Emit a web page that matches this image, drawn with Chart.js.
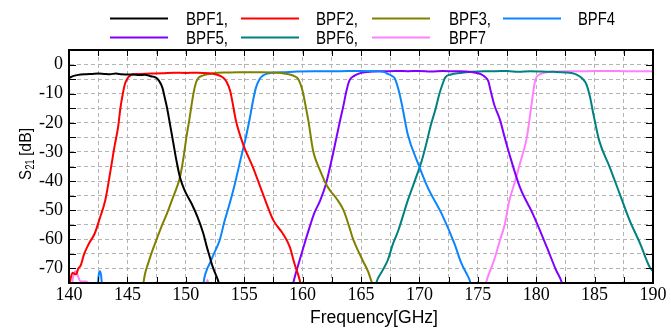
<!DOCTYPE html>
<html>
<head>
<meta charset="utf-8">
<script src="https://cdn.jsdelivr.net/npm/chart.js"></script>
<style>body{margin:0;background:#fff}</style>
</head>
<body>
<canvas id="myChart" width="671" height="332"></canvas>
<script>
var bpf1F = [140, 140.4, 141, 141.5, 142, 142.5, 143, 143.5, 144, 144.5, 145, 145.5, 146, 146.5, 147, 147.4, 147.7, 148.0, 148.2, 148.4, 148.6, 148.9, 149.2, 149.5, 149.9, 150.5, 151.0, 151.5, 151.8, 152.05, 152.3, 152.75, 153];
var bpf1S = [-4.6, -3.9, -3.4, -3.3, -3.2, -3.1, -3.2, -3.3, -3.1, -3.3, -3.4, -3.4, -3.6, -3.5, -4.0, -4.4, -5.5, -8, -11.4, -15, -19.4, -26.2, -33, -38.7, -43.2, -47.8, -52.3, -58, -62.6, -66, -69.4, -74, -77];

var bpf2F = [140.05, 140.3, 140.6, 140.8, 141.0, 141.3, 141.7, 142.2, 142.7, 143.1, 143.6, 143.9, 144.2, 144.4, 144.6, 144.8, 145.05, 145.3, 145.6, 146, 147, 148, 149, 150, 151, 152, 152.6, 153.0, 153.2, 153.5, 153.8, 154.0, 154.3, 154.9, 155.75, 156.6, 157.5, 158.3, 158.9, 159.3, 159.75, 159.9];
var bpf2S = [-75, -71.5, -72, -70, -69, -65, -61.5, -58, -52, -46.7, -35.3, -28, -21.6, -15, -10.2, -6.5, -4.5, -3.6, -3.3, -3.2, -3.1, -3.0, -2.8, -2.9, -2.8, -3.0, -3.4, -4.0, -4.5, -6, -9.1, -13, -19.4, -27.3, -35.3, -44.4, -53.5, -58, -62.6, -68.3, -74, -77];

var bpf3F = [146.3, 146.5, 146.8, 147.05, 147.5, 147.9, 148.4, 148.8, 149.2, 149.5, 149.8, 150.05, 150.3, 150.5, 150.7, 150.85, 151.1, 151.5, 151.9, 152.5, 153.5, 154.5, 155.5, 156.5, 157.5, 158.3, 158.9, 159.3, 159.6, 159.8, 160.0, 160.2, 160.5, 160.9, 161.2, 161.5, 162.0, 162.4, 162.9, 163.5, 164.0, 164.3, 164.6, 165.2, 165.6, 165.9, 166.1];
var bpf3S = [-77, -72, -68, -64.9, -60, -55.8, -51, -46.7, -42.5, -38.7, -32, -25, -19, -13.7, -9, -6.5, -4.5, -3.7, -3.3, -2.9, -2.7, -2.6, -2.6, -2.6, -2.7, -3.0, -3.4, -4.0, -4.8, -6.5, -9.1, -13, -19.4, -29.6, -33.5, -36.4, -41, -43.5, -46, -50, -55.8, -59.7, -62.6, -67.7, -71, -74.5, -77];

var bpf4F = [142.45, 142.55, 142.65, 142.75, 142.85, 143, 151.45, 151.6, 151.9, 152.05, 152.4, 152.9, 153.3, 153.75, 154.2, 154.6, 154.9, 155.2, 155.5, 155.75, 156.0, 156.3, 156.6, 156.9, 157.5, 158.5, 159.5, 161, 163, 165, 166.5, 167, 167.3, 167.6, 167.9, 168.2, 168.5, 169.0, 169.9, 170.7, 171.9, 173.0, 173.6, 174.0, 174.3, 174.5];
var bpf4S = [-77, -72, -71, -72.5, -77, null, -77, -73, -69.5, -68.3, -65, -60.3, -54, -47.8, -41, -34.1, -29, -23.9, -18, -12.5, -8, -5.1, -3.8, -3.2, -2.8, -2.6, -2.4, -2.3, -2.3, -2.2, -2.3, -2.6, -3.2, -3.8, -4.8, -8.5, -13.7, -23.9, -34.1, -42.1, -51.2, -61.5, -68.3, -71.5, -74, -77];

var bpf5F = [159.1, 159.2, 159.75, 160.2, 160.6, 161.0, 161.5, 162.0, 162.3, 162.6, 162.9, 163.2, 163.5, 163.75, 164.0, 164.45, 165.0, 166, 167, 168, 169, 170, 171, 172, 173, 174, 174.8, 175.3, 175.6, 175.9, 176.1, 176.4, 176.9, 177.3, 177.7, 178.6, 179.7, 180.9, 181.7, 182.2, 182.3];
var bpf5S = [-77, -75, -67.1, -61, -55.8, -51, -46.7, -41, -36, -30.7, -25, -19.4, -14, -9.1, -5.5, -3.8, -2.85, -2.4, -2.3, -2.2, -2.3, -2.2, -2.4, -2.2, -2.3, -2.4, -2.8, -3.4, -4.2, -5.7, -9, -13.7, -19, -25, -30.7, -42.1, -51.2, -62.6, -70.6, -75, -77];

var bpf6F = [166.2, 166.3, 166.8, 167.3, 167.7, 168.2, 169.0, 169.6, 170.2, 170.6, 171.0, 171.4, 171.7, 172.0, 172.2, 172.7, 173.5, 174.5, 175.5, 176.5, 177.5, 178.5, 179.5, 180.5, 181.5, 182.5, 183.3, 183.7, 184.0, 184.3, 184.6, 184.9, 185.4, 186.3, 187.15, 188.0, 188.9, 189.7, 190];
var bpf6S = [-77, -75, -71, -67.1, -62, -56.9, -46.7, -40, -33, -27, -20.5, -15, -10.2, -6.5, -4.5, -3.4, -2.9, -2.5, -2.3, -2.3, -2.2, -2.5, -2.3, -2.4, -2.5, -2.7, -3.2, -4, -5, -6.8, -11, -17.1, -26.2, -35.3, -44.4, -53.5, -61.5, -69.4, -71];

var bpf7F = [140.2, 140.4, 140.6, 140.8, 141.0, 141.5, 141.8, 142, 151.7, 151.85, 152.0, 152.1, 175.6, 175.7, 176.4, 176.9, 177.3, 177.7, 178.2, 178.6, 179.2, 179.6, 179.9, 180.3, 181.4, 182.5, 184, 186, 188, 190];
var bpf7S = [-77, -72, -71, -73, -74.5, -74.5, -77, null, -77, -74, -77, null, -77, -75, -67.1, -60.3, -55, -46.7, -40, -34.1, -25, -13.7, -5.7, -3.4, -2.5, -2.3, -2.3, -2.2, -2.3, -2.3];

var names = ['BPF1', 'BPF2', 'BPF3', 'BPF4', 'BPF5', 'BPF6', 'BPF7'];
var colors = ['#000000', '#ff0000', '#808000', '#0a84ff', '#8000ff', '#008080', '#ff80ff'];
var freqs = [bpf1F, bpf2F, bpf3F, bpf4F, bpf5F, bpf6F, bpf7F];
var s21s = [bpf1S, bpf2S, bpf3S, bpf4S, bpf5S, bpf6S, bpf7S];

var datasets = names.map(function (n, i) {
	return {
		label: n,
		data: freqs[i].map(function (f, k) { return { x: f, y: s21s[i][k] }; }),
		borderColor: colors[i],
		borderWidth: 2,
		pointRadius: 0,
		cubicInterpolationMode: 'monotone',
		spanGaps: false,
		clip: 0
	};
});

function sansFont(px) { return px + 'px "Liberation Sans", Arial, sans-serif'; }

// draw text squeezed horizontally to a given width
function fitText(ctx, str, x, y, w) {
	var m = ctx.measureText(str).width;
	ctx.save();
	ctx.translate(x, y);
	ctx.scale(w / m, 1);
	ctx.fillText(str, 0, 0);
	ctx.restore();
}

// frame with inward ticks, axis titles and the two-row legend
var decor = {
	id: 'decor',
	afterDraw: function (chart) {
		var ctx = chart.ctx, a = chart.chartArea, x = chart.scales.x, y = chart.scales.y;
		ctx.save();
		ctx.strokeStyle = '#000';
		ctx.lineWidth = 1;
		ctx.beginPath();
		x.ticks.forEach(function (t) {
			var px = Math.round(x.getPixelForValue(t.value)) + 0.5;
			ctx.moveTo(px, a.bottom); ctx.lineTo(px, a.bottom - 6);
			ctx.moveTo(px, a.top); ctx.lineTo(px, a.top + 6);
		});
		y.ticks.forEach(function (t) {
			var py = Math.round(y.getPixelForValue(t.value)) + 0.5;
			ctx.moveTo(a.left, py); ctx.lineTo(a.left + 7, py);
			ctx.moveTo(a.right, py); ctx.lineTo(a.right - 7, py);
		});
		ctx.stroke();
		ctx.lineWidth = 2;
		ctx.strokeRect(a.left, a.top, a.right - a.left, a.bottom - a.top);

		ctx.fillStyle = '#000';
		ctx.textBaseline = 'alphabetic';
		ctx.textAlign = 'left';
		ctx.font = sansFont(18);
		fitText(ctx, 'Frequency[GHz]', 310, 323, 128);

		// y title with subscript
		ctx.save();
		ctx.translate(31, 180);
		ctx.rotate(-Math.PI / 2);
		ctx.font = sansFont(17);
		fitText(ctx, 'S', 0, 0, 10);
		ctx.font = sansFont(12);
		fitText(ctx, '21', 10.5, 2.5, 10);
		ctx.font = sansFont(17);
		fitText(ctx, '[dB]', 24, 0, 28);
		ctx.restore();

		// legend
		ctx.font = sansFont(19);
		ctx.textBaseline = 'middle';
		var lineX = [110, 241, 372, 503], textX = [186, 316, 449, 578];
		names.forEach(function (n, i) {
			var col = i % 4, row = Math.floor(i / 4);
			var ly = row ? 37.5 : 18.5;
			ctx.strokeStyle = colors[i];
			ctx.lineWidth = 2;
			ctx.beginPath();
			ctx.moveTo(lineX[col], ly); ctx.lineTo(lineX[col] + 58, ly);
			ctx.stroke();
			var last = (i === 3 || i === 6);
			fitText(ctx, n + (last ? '' : ','), textX[col], ly + 1, last ? 37 : 42);
		});
		ctx.restore();
	}
};

var ctx = document.getElementById('myChart').getContext('2d');
var chart = new Chart(ctx, {
	type: 'line',
	data: { datasets: datasets },
	plugins: [decor],
	options: {
		responsive: false,
		animation: false,
		layout: { padding: { top: 50, right: 18, left: 0, bottom: 0 } },
		plugins: { legend: { display: false }, tooltip: { enabled: false } },
		scales: {
			x: {
				type: 'linear',
				min: 140, max: 190,
				afterFit: function (s) { s.height = 49; },
				ticks: {
					stepSize: 2.5, autoSkip: false, maxRotation: 0, padding: 1,
					color: '#000',
					font: { family: '"Liberation Serif", serif', size: 18 },
					callback: function (v) { return v % 5 === 0 ? v : ''; }
				},
				grid: { color: '#b4b4b4', lineWidth: 1, drawTicks: false },
				border: { dash: [4, 3], color: '#000' }
			},
			y: {
				min: -75, max: 5,
				afterFit: function (s) { s.width = 69; },
				ticks: {
					stepSize: 5, autoSkip: false, padding: 6,
					color: '#000',
					font: { family: '"Liberation Serif", serif', size: 18 },
					callback: function (v) { return v % 10 === 0 ? v : ''; }
				},
				grid: { color: '#b4b4b4', lineWidth: 1, drawTicks: false },
				border: { dash: [4, 3], color: '#000' }
			}
		}
	}
});
</script>
</body>
</html>
